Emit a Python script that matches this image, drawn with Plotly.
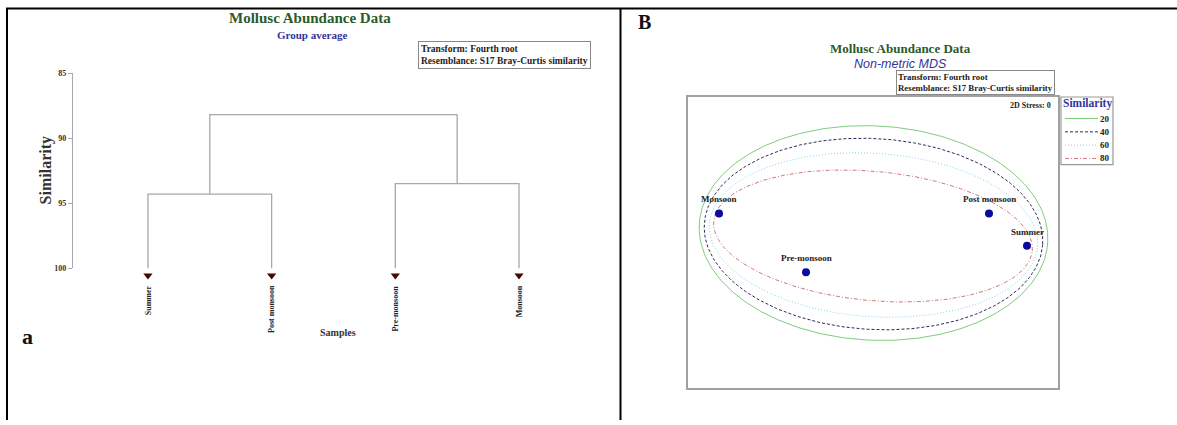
import numpy as np
import plotly.graph_objects as go

W, H = 1177, 425

# ---------------- data ----------------
# Panel a: dendrogram (group average, Bray-Curtis similarity)
samples = ["Summer", "Post monsoon", "Pre-monsoon", "Monsoon"]
merge_left = [0, 2, 4]          # node ids (leaves 0-3, merges 4..)
merge_right = [1, 3, 5]
merge_similarity = [94.3, 93.5, 88.2]
similarity_ticks = [85, 90, 95, 100]

# Panel B: non-metric MDS
mds_samples = ["Monsoon", "Post monsoon", "Summer", "Pre-monsoon"]
mds_x = [-1.54, 1.16, 1.54, -0.67]
mds_y = [0.22, 0.22, -0.11, -0.38]

contour_levels = ["20", "40", "60", "80"]
contour_cx = [0.005, 0.005, 0.005, 0.0]
contour_cy = [0.02, 0.01, 0.0, -0.01]
contour_a = [1.745, 1.695, 1.645, 1.60]
contour_b = [1.095, 0.975, 0.835, 0.66]
contour_angle = [-3.0, -3.5, -4.0, -5.5]

# ---------------- styles ----------------
SERIF = "Liberation Serif"
SANS = "Liberation Sans"
GREEN_TITLE = "#2b5a2b"
BLUE_TITLE = "#34349a"
LINE_GREY = "#a8a8a8"
contour_colors = ["#7dcc7d", "#2a2a5e", "#7fd6ea", "#d07878"]
contour_dash = ["solid", "3px,2px", "1px,2px", "4px,2px,1px,2px"]


def px(x):
    return x / W


def py(y):
    return 1 - y / H


fig = go.Figure()

# ---- dendrogram ----
node_x = [i + 1 for i in range(len(samples))]
node_h = [100.0] * len(samples)
seg_x, seg_y = [], []
for l, r, s in zip(merge_left, merge_right, merge_similarity):
    xl, xr = node_x[l], node_x[r]
    seg_x += [xl, xl, xr, xr, None]
    seg_y += [node_h[l], s, s, node_h[r], None]
    node_x.append((xl + xr) / 2)
    node_h.append(s)

# visible similarity axis (axis line 85..100 only)
fig.add_trace(go.Scatter(x=[None], y=[None], mode="markers", showlegend=False,
                         hoverinfo="skip", xaxis="x", yaxis="y"))
# dendrogram drawn on an invisible axis with the same scale but extended below 100
fig.add_trace(go.Scatter(x=seg_x, y=seg_y, mode="lines",
                         line=dict(color=LINE_GREY, width=1.3),
                         showlegend=False, hoverinfo="skip",
                         xaxis="x", yaxis="y3"))
LEAF_OFFSET = 0.55
fig.add_trace(go.Scatter(x=node_x[:len(samples)],
                         y=[100 + LEAF_OFFSET] * len(samples),
                         mode="markers",
                         marker=dict(symbol="triangle-down", size=8, color="#4a0505"),
                         showlegend=False, hoverinfo="skip",
                         xaxis="x", yaxis="y3"))

annotations = []
for i, name in enumerate(samples):
    annotations.append(dict(x=node_x[i], y=100, xref="x", yref="y3", yshift=-15,
                            text="<b>%s</b>" % name, textangle=-90, showarrow=False,
                            xanchor="center", yanchor="top",
                            font=dict(family=SERIF, size=8, color="#222")))

# ---- MDS ----
t = np.linspace(0, 2 * np.pi, 361)
for i, (lev, cx, cy, a, b, ang, col, dsh) in enumerate(zip(
        contour_levels, contour_cx, contour_cy, contour_a, contour_b,
        contour_angle, contour_colors, contour_dash)):
    th = np.deg2rad(ang)
    ex = cx + a * np.cos(t) * np.cos(th) - b * np.sin(t) * np.sin(th)
    ey = cy + a * np.cos(t) * np.sin(th) + b * np.sin(t) * np.cos(th)
    fig.add_trace(go.Scatter(x=ex, y=ey, mode="lines",
                             line=dict(color=col, width=1, dash=dsh),
                             showlegend=False, hoverinfo="skip", xaxis="x2", yaxis="y2"))
    # legend sample line
    fig.add_trace(go.Scatter(x=[0, 1], y=[i, i], mode="lines",
                             line=dict(color=col, width=1, dash=dsh),
                             showlegend=False, hoverinfo="skip", xaxis="x4", yaxis="y4"))
    annotations.append(dict(x=px(1112), y=i, xref="paper", yref="y4", showarrow=False,
                            xanchor="right", yanchor="middle", text="<b>%s</b>" % lev,
                            font=dict(family=SERIF, size=9, color="#222")))

fig.add_trace(go.Scatter(x=mds_x, y=mds_y, mode="markers",
                         marker=dict(size=8, color="#0a0aa0"),
                         showlegend=False, hoverinfo="skip",
                         xaxis="x2", yaxis="y2"))
for name, xv, yv in zip(mds_samples, mds_x, mds_y):
    annotations.append(dict(x=xv, y=yv, xref="x2", yref="y2", yshift=14, showarrow=False,
                            xanchor="center", yanchor="middle", text="<b>%s</b>" % name,
                            font=dict(family=SERIF, size=9, color="#222")))

# ---- texts ----
BOX_TEXT = "<b>Transform: Fourth root</b><br><b>Resemblance: S17 Bray-Curtis similarity</b>"
annotations += [
    dict(x=px(310), y=py(14), text="<b>Mollusc Abundance Data</b>",
         font=dict(family=SERIF, size=15, color=GREEN_TITLE)),
    dict(x=px(312), y=py(32), text="<b>Group average</b>",
         font=dict(family=SERIF, size=11, color=BLUE_TITLE)),
    dict(x=px(418), y=py(38), xanchor="left", yanchor="top", align="left", text=BOX_TEXT,
         font=dict(family=SERIF, size=9.5, color="#222"),
         bordercolor="#888", borderwidth=1, borderpad=2, bgcolor="white"),
    dict(x=px(46), y=py(170), text="<b>Similarity</b>", textangle=-90,
         font=dict(family=SERIF, size=16, color="#333")),
    dict(x=px(338), y=py(336), text="<b>Samples</b>",
         font=dict(family=SERIF, size=10, color="#333")),
    dict(x=px(27), y=py(340), text="<b>a</b>",
         font=dict(family=SERIF, size=22, color="#111")),
    dict(x=px(644), y=py(18), text="<b>B</b>",
         font=dict(family=SERIF, size=20, color="#111")),
    dict(x=px(900), y=py(45), text="<b>Mollusc Abundance Data</b>",
         font=dict(family=SERIF, size=13, color=GREEN_TITLE)),
    dict(x=px(900), y=py(61), text="<i>Non-metric MDS</i>",
         font=dict(family=SANS, size=12.5, color=BLUE_TITLE)),
    dict(x=px(896), y=py(67), xanchor="left", yanchor="top", align="left", text=BOX_TEXT,
         font=dict(family=SERIF, size=8.8, color="#222"),
         bordercolor="#888", borderwidth=1, borderpad=1, bgcolor="white"),
    dict(x=px(1053), y=py(104), xanchor="right", text="<b>2D Stress: 0</b>",
         font=dict(family=SERIF, size=8, color="#222")),
    dict(x=px(1087), y=py(102), text="<b>Similarity</b>",
         font=dict(family=SERIF, size=11.5, color=BLUE_TITLE)),
]
for ann in annotations:
    ann.setdefault("xref", "paper")
    ann.setdefault("yref", "paper")
    ann.setdefault("showarrow", False)
    ann.setdefault("xanchor", "center")
    ann.setdefault("yanchor", "middle")

# table borders + legend box
shapes = [
    dict(type="line", xref="paper", yref="paper", x0=px(6), x1=1, y0=py(4.5), y1=py(4.5),
         line=dict(color="black", width=2)),
    dict(type="line", xref="paper", yref="paper", x0=px(7), x1=px(7), y0=py(4), y1=0,
         line=dict(color="black", width=2)),
    dict(type="line", xref="paper", yref="paper", x0=px(620.5), x1=px(620.5), y0=py(4), y1=0,
         line=dict(color="black", width=2)),
    dict(type="rect", xref="paper", yref="paper", x0=px(1061), x1=px(1113), y0=py(164), y1=py(95),
         line=dict(color="#999", width=1.2), fillcolor="white", layer="below"),
]

LEG_TOP, LEG_BOTTOM, LEG_Y0, LEG_STEP = 110, 166, 117, 13.6
fig.update_layout(
    width=W, height=H, margin=dict(l=0, r=0, t=0, b=0),
    paper_bgcolor="white", plot_bgcolor="rgba(0,0,0,0)",
    annotations=annotations, shapes=shapes, showlegend=False,
    xaxis=dict(domain=[px(73), px(590)], range=[0.394, 4.574], visible=False),
    yaxis=dict(domain=[py(270), py(70.5)], range=[100, 85], tickvals=similarity_ticks,
               ticks="outside", ticklen=4, tickcolor=LINE_GREY, showline=True,
               linecolor=LINE_GREY, linewidth=1.3, showgrid=False, zeroline=False,
               tickfont=dict(family=SERIF, size=8, color="#333", weight="bold")),
    yaxis3=dict(domain=[py(300), py(70.5)], range=[100 + 30 * 15 / 199.5, 85],
                visible=False, anchor="x"),
    xaxis2=dict(domain=[px(688), px(1058)], range=[-1.85, 1.85], showticklabels=False,
                ticks="", showgrid=False, zeroline=False, showline=True, mirror=True,
                linecolor="#a0a0a0", linewidth=1.5, anchor="y2"),
    yaxis2=dict(domain=[py(392), py(95)], range=[-1.56, 1.41], showticklabels=False,
                ticks="", showgrid=False, zeroline=False, showline=True, mirror=True,
                linecolor="#a0a0a0", linewidth=1.5, anchor="x2"),
    xaxis4=dict(domain=[px(1065), px(1098)], range=[0, 1], visible=False, anchor="y4"),
    yaxis4=dict(domain=[py(LEG_BOTTOM), py(LEG_TOP)],
                range=[(LEG_BOTTOM - LEG_Y0) / LEG_STEP, (LEG_TOP - LEG_Y0) / LEG_STEP],
                visible=False, anchor="x4"),
)

fig.write_html("out.html", config={"displayModeBar": False},
               post_script="document.body.style.margin='0';")
